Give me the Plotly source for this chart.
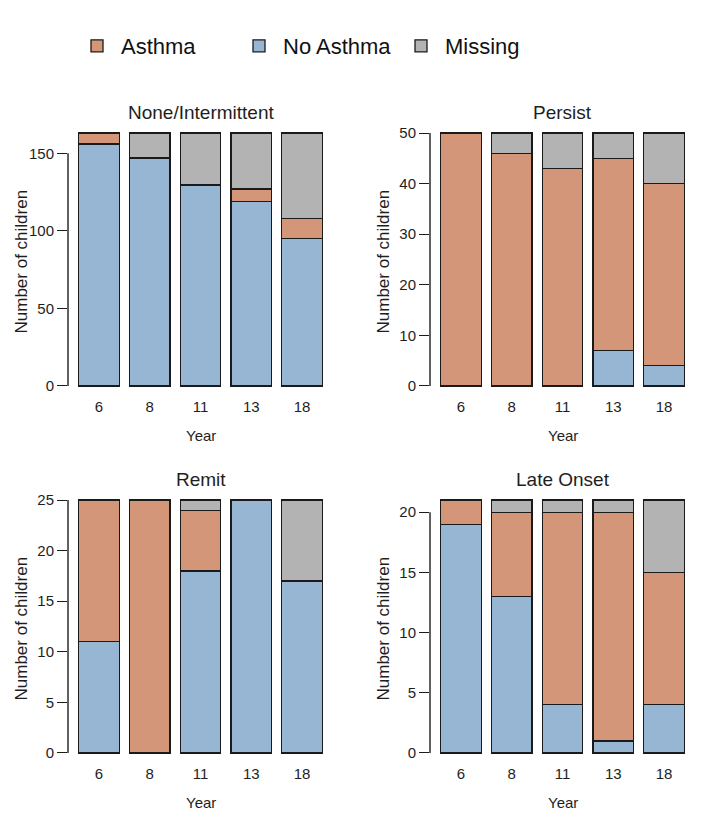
import plotly.graph_objects as go

# survey years and the four asthma groups
years = ["6", "8", "11", "13", "18"]
groups = ["None/Intermittent", "Persist", "Remit", "Late Onset"]

# counts per year, one list per group and status
none_no_asthma = [156, 147, 129, 119, 95]
none_asthma = [7, 0, 1, 8, 13]
none_missing = [0, 16, 33, 36, 55]

persist_no_asthma = [0, 0, 0, 7, 4]
persist_asthma = [50, 46, 43, 38, 36]
persist_missing = [0, 4, 7, 5, 10]

remit_no_asthma = [11, 0, 18, 25, 17]
remit_asthma = [14, 25, 6, 0, 0]
remit_missing = [0, 0, 1, 0, 8]

late_no_asthma = [19, 13, 4, 1, 4]
late_asthma = [2, 7, 16, 19, 11]
late_missing = [0, 1, 1, 1, 6]

# y axis ticks for each panel
none_ticks = [0, 50, 100, 150]
persist_ticks = [0, 10, 20, 30, 40, 50]
remit_ticks = [0, 5, 10, 15, 20, 25]
late_ticks = [0, 5, 10, 15, 20]

panels = [
    (none_no_asthma, none_asthma, none_missing, none_ticks),
    (persist_no_asthma, persist_asthma, persist_missing, persist_ticks),
    (remit_no_asthma, remit_asthma, remit_missing, remit_ticks),
    (late_no_asthma, late_asthma, late_missing, late_ticks),
]

ORANGE = "#D39678"
BLUE = "#97B6D4"
GREY = "#B3B3B3"
EDGE = "#1a1a1a"
TXT = "#1e1e1e"
FONT = "Liberation Sans"

# page body adds an 8px margin, so the figure is a bit smaller than the window
OFF = 8
W, H = 723 - 2 * OFF, 826 - 2 * OFF


def fx(px):
    return (px - OFF) / W


def fy(px):
    return 1 - (px - OFF) / H


# plot areas in window pixels: (left, right, top, bottom)
boxes = [
    (68, 333, 123, 396),
    (430, 695, 123, 396),
    (68, 333, 490, 763),
    (430, 695, 490, 763),
]

fig = go.Figure()
annotations = []
shapes = []

for i, (no_a, a, miss, ticks) in enumerate(panels):
    n = "" if i == 0 else str(i + 1)
    xa, ya = "x" + n, "y" + n
    show = i == 0
    for name, vals, col, rank in [("No Asthma", no_a, BLUE, 2),
                                  ("Asthma", a, ORANGE, 1),
                                  ("Missing", miss, GREY, 3)]:
        fig.add_trace(go.Bar(
            x=years, y=vals, name=name, legendrank=rank, showlegend=show,
            marker=dict(color=col, line=dict(color=EDGE, width=1.3)),
            xaxis=xa, yaxis=ya))

    total = max(p + q + r for p, q, r in zip(no_a, a, miss))
    l, r, t, b = boxes[i]
    fig.layout["xaxis" + n] = dict(
        domain=[fx(l), fx(r)], anchor=ya, type="category",
        range=[-0.61, 4.61], showgrid=False, zeroline=False, showline=False,
        ticks="", tickfont=dict(size=15, color=TXT, family=FONT),
        fixedrange=True)
    fig.layout["yaxis" + n] = dict(
        domain=[fy(b), fy(t)], anchor=xa,
        range=[-0.04 * total, 1.04 * total], showgrid=False, zeroline=False,
        showline=False, ticks="outside", ticklen=10, tickwidth=1.4,
        tickcolor=TXT, tickvals=ticks,
        tickfont=dict(size=15, color=TXT, family=FONT))
    # R-style axis line from first to last tick
    shapes.append(dict(type="line", xref=xa + " domain", yref=ya,
                       x0=0, x1=0, y0=ticks[0], y1=ticks[-1],
                       line=dict(color=TXT, width=1.4)))

    cx = fx((l + r) / 2)
    annotations.append(dict(text=groups[i], x=cx, y=fy(t - 11),
                            xref="paper", yref="paper", showarrow=False,
                            font=dict(size=19, color=TXT, family=FONT),
                            xanchor="center", yanchor="middle"))
    annotations.append(dict(text="Year", x=cx, y=fy(b + 39),
                            xref="paper", yref="paper", showarrow=False,
                            font=dict(size=15, color=TXT, family=FONT),
                            xanchor="center", yanchor="middle"))
    annotations.append(dict(text="Number of children", x=fx(l - 47),
                            y=fy((t + b) / 2 + 2), textangle=-90,
                            xref="paper", yref="paper", showarrow=False,
                            font=dict(size=17, color=TXT, family=FONT),
                            xanchor="center", yanchor="middle"))

fig.update_layout(
    barmode="stack",
    width=W, height=H,
    margin=dict(l=0, r=0, t=0, b=0),
    plot_bgcolor="white", paper_bgcolor="white",
    annotations=annotations, shapes=shapes,
    legend=dict(orientation="h", x=fx(73), xanchor="left", y=fy(46),
                yanchor="middle", font=dict(size=22, color="#111", family=FONT),
                traceorder="normal", itemwidth=38,
                entrywidth=109, entrywidthmode="pixels"),
    font=dict(family=FONT),
)

fig.write_html("out.html")
